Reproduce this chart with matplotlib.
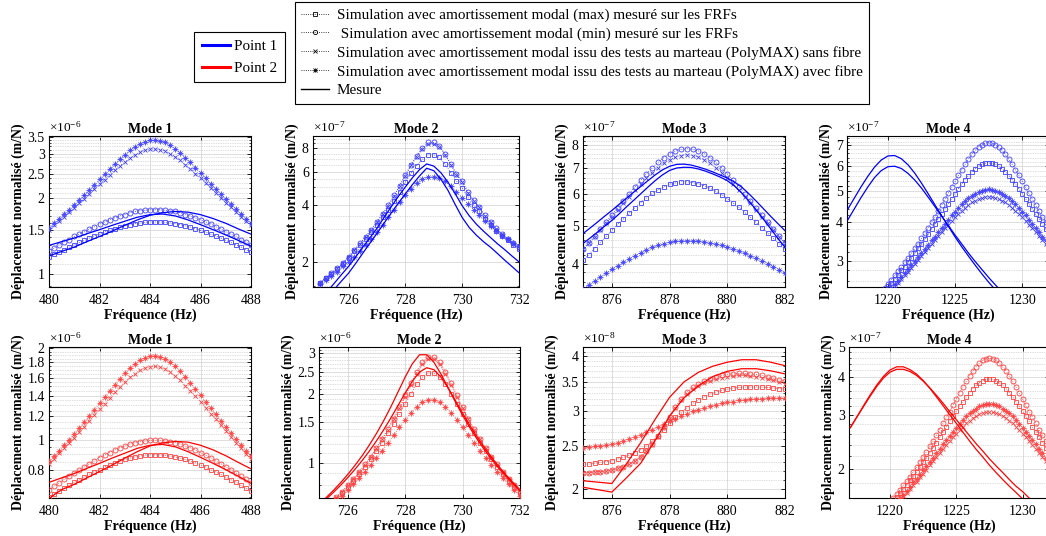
import numpy as np
import matplotlib
matplotlib.use('Agg')
import matplotlib.pyplot as plt
from matplotlib.lines import Line2D
from matplotlib.legend_handler import HandlerTuple
from matplotlib.ticker import FixedLocator, NullFormatter, NullLocator

plt.rcParams['font.family'] = ['Liberation Serif', 'DejaVu Serif']
plt.rcParams['mathtext.fontset'] = 'custom'
plt.rcParams['mathtext.rm'] = 'Liberation Serif'
plt.rcParams['mathtext.it'] = 'Liberation Serif:italic'
plt.rcParams['mathtext.bf'] = 'Liberation Serif:bold'

# ---------------- data ----------------
LEG_POINTS = ['Point 1', 'Point 2']
LEG_SERIES = ['Simulation avec amortissement modal (max) mesuré sur les FRFs',
              ' Simulation avec amortissement modal (min) mesuré sur les FRFs',
              'Simulation avec amortissement modal issu des tests au marteau (PolyMAX) sans fibre',
              'Simulation avec amortissement modal issu des tests au marteau (PolyMAX) avec fibre',
              'Mesure']
TITLES = ['Mode 1', 'Mode 2', 'Mode 3', 'Mode 4']

F_M1 = [480.0, 480.2, 480.4, 480.6, 480.8, 481.0, 481.2, 481.4, 481.6, 481.8, 482.0, 482.2, 482.4, 482.6,
        482.8, 483.0, 483.2, 483.4, 483.6, 483.8, 484.0, 484.2, 484.4, 484.6, 484.8, 485.0, 485.2, 485.4,
        485.6, 485.8, 486.0, 486.2, 486.4, 486.6, 486.8, 487.0, 487.2, 487.4, 487.6, 487.8, 488.0]
F_M1_MES = [480.0, 480.5, 481.0, 481.5, 482.0, 482.5, 483.0, 483.5, 484.0, 484.5, 485.0, 485.5, 486.0,
            486.5, 487.0, 487.5, 488.0]
F_M2 = [725.0, 725.2, 725.4, 725.6, 725.8, 726.0, 726.2, 726.4, 726.6, 726.8, 727.0, 727.2, 727.4, 727.6,
        727.8, 728.0, 728.2, 728.4, 728.6, 728.8, 729.0, 729.2, 729.4, 729.6, 729.8, 730.0, 730.2, 730.4,
        730.6, 730.8, 731.0, 731.2, 731.4, 731.6, 731.8, 732.0]
F_M2_MES = [725.0, 725.25, 725.5, 725.75, 726.0, 726.25, 726.5, 726.75, 727.0, 727.25, 727.5, 727.75,
            728.0, 728.25, 728.5, 728.75, 729.0, 729.25, 729.5, 729.75, 730.0, 730.25, 730.5, 730.75,
            731.0, 731.25, 731.5, 731.75, 732.0]
F_M3 = [875.0, 875.2, 875.4, 875.6, 875.8, 876.0, 876.2, 876.4, 876.6, 876.8, 877.0, 877.2, 877.4, 877.6,
        877.8, 878.0, 878.2, 878.4, 878.6, 878.8, 879.0, 879.2, 879.4, 879.6, 879.8, 880.0, 880.2, 880.4,
        880.6, 880.8, 881.0, 881.2, 881.4, 881.6, 881.8, 882.0]
F_M3_MES = [875.0, 875.25, 875.5, 875.75, 876.0, 876.25, 876.5, 876.75, 877.0, 877.25, 877.5, 877.75,
            878.0, 878.25, 878.5, 878.75, 879.0, 879.25, 879.5, 879.75, 880.0, 880.25, 880.5, 880.75,
            881.0, 881.25, 881.5, 881.75, 882.0]
F_M3_MES_R = [875.0, 875.5, 876.0, 876.5, 877.0, 877.5, 878.0, 878.5, 879.0, 879.5, 880.0, 880.5, 881.0,
              881.5, 882.0]
F_M4 = [1219.5, 1219.75, 1220.0, 1220.25, 1220.5, 1220.75, 1221.0, 1221.25, 1221.5, 1221.75, 1222.0,
        1222.25, 1222.5, 1222.75, 1223.0, 1223.25, 1223.5, 1223.75, 1224.0, 1224.25, 1224.5, 1224.75,
        1225.0, 1225.25, 1225.5, 1225.75, 1226.0, 1226.25, 1226.5, 1226.75, 1227.0, 1227.25, 1227.5,
        1227.75, 1228.0, 1228.25, 1228.5, 1228.75, 1229.0, 1229.25, 1229.5, 1229.75, 1230.0, 1230.25,
        1230.5, 1230.75, 1231.0, 1231.25, 1231.5, 1231.75, 1232.0]
F_M4_MES = [1217.0, 1217.5, 1218.0, 1218.5, 1219.0, 1219.5, 1220.0, 1220.5, 1221.0, 1221.5, 1222.0,
            1222.5, 1223.0, 1223.5, 1224.0, 1224.5, 1225.0, 1225.5, 1226.0, 1226.5, 1227.0, 1227.5,
            1228.0, 1228.5, 1229.0, 1229.5, 1230.0, 1230.5, 1231.0, 1231.5, 1232.0]

# Point 1 (blue) -- Mode 1 (x1e-6)
B1_MAX = [1.17, 1.20, 1.225, 1.25, 1.28, 1.31, 1.335, 1.36, 1.39, 1.42, 1.44, 1.47, 1.49, 1.515, 1.535, 1.555,
          1.57, 1.585, 1.595, 1.605, 1.61, 1.61, 1.61, 1.605, 1.595, 1.585, 1.57, 1.555, 1.535, 1.515, 1.49,
          1.47, 1.44, 1.42, 1.39, 1.36, 1.335, 1.31, 1.28, 1.25, 1.225]
B1_MIN = [1.24, 1.27, 1.305, 1.34, 1.37, 1.41, 1.44, 1.47, 1.51, 1.54, 1.58, 1.61, 1.64, 1.67, 1.70, 1.72,
          1.75, 1.77, 1.78, 1.79, 1.80, 1.80, 1.80, 1.79, 1.78, 1.77, 1.75, 1.72, 1.70, 1.67, 1.64, 1.61,
          1.58, 1.54, 1.51, 1.47, 1.44, 1.41, 1.37, 1.34, 1.305]
B1_SANS = [1.50, 1.56, 1.63, 1.69, 1.755, 1.83, 1.91, 1.99, 2.08, 2.17, 2.27, 2.36, 2.47, 2.58, 2.68, 2.78,
           2.88, 2.96, 3.04, 3.09, 3.12, 3.13, 3.11, 3.07, 3.00, 2.91, 2.82, 2.71, 2.61, 2.50, 2.40, 2.29,
           2.19, 2.10, 2.01, 1.92, 1.84, 1.76, 1.69, 1.62, 1.56]
B1_AVEC = [1.53, 1.59, 1.66, 1.73, 1.80, 1.88, 1.97, 2.06, 2.16, 2.26, 2.37, 2.48, 2.60, 2.73, 2.85, 2.97,
           3.09, 3.19, 3.28, 3.34, 3.38, 3.39, 3.37, 3.32, 3.23, 3.13, 3.02, 2.89, 2.77, 2.64, 2.52, 2.40,
           2.28, 2.18, 2.08, 1.98, 1.89, 1.81, 1.73, 1.66, 1.59]
B1_MES1 = [1.30, 1.345, 1.39, 1.445, 1.50, 1.56, 1.62, 1.68, 1.72, 1.73, 1.70, 1.64, 1.57, 1.50, 1.43, 1.36, 1.29]
B1_MES2 = [1.18, 1.23, 1.28, 1.345, 1.41, 1.48, 1.56, 1.64, 1.71, 1.75, 1.77, 1.76, 1.72, 1.66, 1.59, 1.51, 1.44]

# Point 1 -- Mode 2 (x1e-7)
B2_MAX = [1.56, 1.645, 1.74, 1.85, 1.97, 2.11, 2.28, 2.47, 2.66, 2.89, 3.16, 3.47, 3.80, 4.24, 4.73, 5.30,
          5.91, 6.48, 6.99, 7.40, 7.40, 7.16, 6.59, 5.95, 5.37, 4.94, 4.40, 4.02, 3.73, 3.40, 3.16, 2.93,
          2.75, 2.61, 2.47, 2.36]
B2_MIN = [1.56, 1.65, 1.75, 1.86, 1.99, 2.14, 2.32, 2.52, 2.73, 2.98, 3.27, 3.62, 4.00, 4.51, 5.09, 5.79,
          6.57, 7.32, 8.03, 8.60, 8.60, 8.26, 7.47, 6.62, 5.87, 5.35, 4.70, 4.25, 3.92, 3.54, 3.27, 3.02,
          2.82, 2.67, 2.52, 2.40]
B2_SANS = [1.56, 1.65, 1.75, 1.86, 1.99, 2.13, 2.31, 2.51, 2.72, 2.97, 3.25, 3.60, 3.97, 4.47, 5.05, 5.73,
           6.50, 7.23, 7.92, 8.47, 8.47, 8.14, 7.37, 6.55, 5.82, 5.30, 4.66, 4.22, 3.90, 3.52, 3.25, 3.00,
           2.81, 2.66, 2.51, 2.39]
B2_AVEC = [1.54, 1.61, 1.70, 1.785, 1.90, 2.01, 2.14, 2.30, 2.46, 2.67, 2.90, 3.14, 3.45, 3.76, 4.16, 4.51,
           4.89, 5.24, 5.52, 5.63, 5.68, 5.59, 5.36, 5.03, 4.70, 4.39, 4.08, 3.80, 3.54, 3.31, 3.10, 2.93,
           2.77, 2.64, 2.53, 2.44]
B2_MES1 = [1.27, 1.40, 1.55, 1.72, 1.90, 2.13, 2.40, 2.69, 3.02, 3.45, 3.92, 4.45, 5.00, 5.60, 6.18, 6.62,
           6.45, 5.95, 5.30, 4.62, 3.98, 3.52, 3.18, 2.92, 2.70, 2.50, 2.33, 2.16, 2.01]
B2_MES2 = [1.16, 1.29, 1.44, 1.59, 1.75, 1.97, 2.23, 2.52, 2.84, 3.22, 3.64, 4.10, 4.60, 5.15, 5.72, 6.28,
           6.10, 5.50, 4.80, 4.05, 3.45, 3.05, 2.78, 2.57, 2.40, 2.22, 2.05, 1.90, 1.76]

# Point 1 -- Mode 3 (x1e-7)
B3_MAX = [4.08, 4.22, 4.37, 4.53, 4.69, 4.86, 5.03, 5.20, 5.37, 5.55, 5.72, 5.88, 6.03, 6.16, 6.27, 6.36,
          6.42, 6.46, 6.46, 6.43, 6.38, 6.31, 6.22, 6.11, 5.99, 5.85, 5.70, 5.56, 5.40, 5.25, 5.09, 4.94,
          4.79, 4.64, 4.50, 4.36]
B3_MIN = [4.35, 4.52, 4.70, 4.90, 5.10, 5.32, 5.54, 5.78, 6.02, 6.27, 6.52, 6.77, 7.01, 7.24, 7.44, 7.61,
          7.73, 7.81, 7.84, 7.81, 7.73, 7.61, 7.44, 7.24, 7.01, 6.77, 6.52, 6.27, 6.02, 5.78, 5.54, 5.32,
          5.10, 4.90, 4.70, 4.52]
B3_SANS = [4.35, 4.51, 4.68, 4.87, 5.06, 5.27, 5.47, 5.69, 5.92, 6.14, 6.37, 6.60, 6.81, 7.02, 7.20, 7.35,
           7.46, 7.53, 7.56, 7.53, 7.46, 7.35, 7.20, 7.02, 6.81, 6.60, 6.37, 6.14, 5.92, 5.69, 5.47, 5.27,
           5.06, 4.87, 4.68, 4.51]
B3_AVEC = [3.44, 3.53, 3.61, 3.70, 3.78, 3.87, 3.95, 4.03, 4.12, 4.19, 4.27, 4.33, 4.40, 4.45, 4.50, 4.53,
           4.56, 4.57, 4.58, 4.58, 4.57, 4.55, 4.52, 4.49, 4.45, 4.41, 4.36, 4.31, 4.25, 4.19, 4.13, 4.06,
           4.00, 3.93, 3.86, 3.79]
B3_MES1 = [4.77, 4.93, 5.10, 5.28, 5.46, 5.66, 5.86, 6.07, 6.28, 6.50, 6.72, 6.92, 7.07, 7.15, 7.16, 7.12,
           7.04, 6.95, 6.84, 6.72, 6.60, 6.45, 6.26, 6.02, 5.77, 5.52, 5.28, 5.06, 4.85]
B3_MES2 = [4.50, 4.65, 4.81, 4.98, 5.15, 5.35, 5.57, 5.79, 6.02, 6.26, 6.50, 6.72, 6.90, 7.00, 7.03, 7.02,
           6.96, 6.87, 6.76, 6.64, 6.50, 6.30, 6.05, 5.77, 5.48, 5.19, 4.91, 4.64, 4.40]

# Point 1 -- Mode 4 (x1e-7)
B4_MAX = [2.36, 2.42, 2.49, 2.56, 2.63, 2.71, 2.80, 2.88, 2.98, 3.07, 3.18, 3.29, 3.40, 3.52, 3.65, 3.79,
          3.93, 4.08, 4.23, 4.40, 4.57, 4.74, 4.92, 5.10, 5.27, 5.45, 5.61, 5.77, 5.90, 6.01, 6.09, 6.14,
          6.16, 6.14, 6.09, 6.01, 5.90, 5.77, 5.61, 5.45, 5.27, 5.10, 4.92, 4.74, 4.57, 4.40, 4.23, 4.08,
          3.93, 3.79, 3.65]
B4_MIN = [2.40, 2.47, 2.54, 2.62, 2.70, 2.78, 2.87, 2.97, 3.07, 3.18, 3.29, 3.41, 3.54, 3.68, 3.83, 3.99,
          4.15, 4.33, 4.52, 4.72, 4.93, 5.15, 5.38, 5.62, 5.86, 6.10, 6.33, 6.55, 6.75, 6.92, 7.04, 7.12,
          7.15, 7.12, 7.04, 6.92, 6.75, 6.55, 6.33, 6.10, 5.86, 5.62, 5.38, 5.15, 4.93, 4.72, 4.52, 4.33,
          4.15, 3.99, 3.83]
B4_SANS = [2.25, 2.31, 2.37, 2.43, 2.49, 2.56, 2.63, 2.70, 2.77, 2.85, 2.93, 3.02, 3.11, 3.20, 3.30, 3.39,
           3.50, 3.60, 3.71, 3.81, 3.92, 4.03, 4.14, 4.24, 4.34, 4.44, 4.53, 4.61, 4.67, 4.73, 4.77, 4.79,
           4.80, 4.79, 4.77, 4.73, 4.67, 4.61, 4.53, 4.44, 4.34, 4.24, 4.14, 4.03, 3.92, 3.81, 3.71, 3.60,
           3.50, 3.39, 3.30]
B4_AVEC = [2.28, 2.34, 2.40, 2.46, 2.53, 2.60, 2.67, 2.74, 2.82, 2.91, 2.99, 3.08, 3.18, 3.28, 3.38, 3.49,
           3.59, 3.71, 3.82, 3.94, 4.06, 4.19, 4.31, 4.42, 4.54, 4.65, 4.75, 4.84, 4.92, 4.98, 5.03, 5.06,
           5.07, 5.06, 5.03, 4.98, 4.92, 4.84, 4.75, 4.65, 4.54, 4.42, 4.31, 4.19, 4.06, 3.94, 3.82, 3.71,
           3.59, 3.49, 3.38]
B4_MES1 = [4.38, 4.76, 5.17, 5.58, 5.97, 6.29, 6.48, 6.50, 6.35, 6.07, 5.71, 5.31, 4.91, 4.53, 4.18, 3.87,
           3.58, 3.33, 3.11, 2.91, 2.73, 2.57, 2.43, 2.30, 2.19, 2.08, 1.98, 1.89, 1.81, 1.73, 1.66]
B4_MES2 = [4.05, 4.40, 4.78, 5.16, 5.53, 5.82, 5.99, 6.01, 5.91, 5.70, 5.43, 5.12, 4.79, 4.47, 4.17, 3.89,
           3.63, 3.40, 3.18, 2.99, 2.82, 2.66, 2.52, 2.39, 2.27, 2.17, 2.07, 1.98, 1.90, 1.82, 1.75]

# Point 2 (red) -- Mode 1 (x1e-6)
R1_MAX = [0.651, 0.668, 0.682, 0.696, 0.712, 0.729, 0.743, 0.757, 0.774, 0.790, 0.801, 0.818, 0.829, 0.843,
          0.854, 0.865, 0.874, 0.882, 0.888, 0.893, 0.896, 0.896, 0.896, 0.893, 0.888, 0.882, 0.874, 0.865,
          0.854, 0.843, 0.829, 0.818, 0.801, 0.790, 0.774, 0.757, 0.743, 0.729, 0.712, 0.696, 0.682]
R1_MIN = [0.689, 0.706, 0.725, 0.744, 0.761, 0.783, 0.800, 0.817, 0.839, 0.856, 0.878, 0.894, 0.911, 0.928,
          0.944, 0.956, 0.972, 0.983, 0.989, 0.994, 1.0, 1.0, 1.0, 0.994, 0.989, 0.983, 0.972, 0.956, 0.944,
          0.928, 0.911, 0.894, 0.878, 0.856, 0.839, 0.817, 0.800, 0.783, 0.761, 0.744, 0.725]
R1_SANS = [0.836, 0.870, 0.909, 0.942, 0.978, 1.020, 1.065, 1.109, 1.160, 1.210, 1.266, 1.316, 1.377, 1.438,
           1.494, 1.550, 1.606, 1.650, 1.695, 1.723, 1.739, 1.745, 1.734, 1.712, 1.673, 1.622, 1.572, 1.511,
           1.455, 1.394, 1.338, 1.277, 1.221, 1.171, 1.121, 1.070, 1.026, 0.981, 0.942, 0.903, 0.870]
R1_AVEC = [0.853, 0.886, 0.925, 0.964, 1.003, 1.048, 1.098, 1.148, 1.204, 1.260, 1.321, 1.383, 1.450, 1.522,
           1.589, 1.656, 1.723, 1.778, 1.829, 1.862, 1.884, 1.890, 1.879, 1.851, 1.801, 1.745, 1.684, 1.611,
           1.544, 1.472, 1.405, 1.338, 1.271, 1.215, 1.160, 1.104, 1.054, 1.009, 0.964, 0.925, 0.886]
R1_MES1 = [0.728, 0.753, 0.778, 0.809, 0.840, 0.874, 0.907, 0.941, 0.963, 0.969, 0.952, 0.918, 0.879, 0.840,
           0.801, 0.762, 0.722]
R1_MES2 = [0.645, 0.689, 0.717, 0.753, 0.790, 0.829, 0.874, 0.918, 0.958, 0.980, 0.991, 0.986, 0.963, 0.930,
           0.890, 0.846, 0.806]

# Point 2 -- Mode 2 (x1e-6)
R2_MAX = [0.596, 0.626, 0.659, 0.696, 0.737, 0.783, 0.834, 0.893, 0.959, 1.035, 1.122, 1.223, 1.341, 1.477,
          1.633, 1.810, 2.003, 2.196, 2.360, 2.457, 2.457, 2.360, 2.196, 2.003, 1.810, 1.633, 1.477, 1.341,
          1.223, 1.122, 1.035, 0.959, 0.893, 0.834, 0.783, 0.737]
R2_MIN = [0.601, 0.632, 0.666, 0.704, 0.747, 0.794, 0.849, 0.910, 0.981, 1.062, 1.157, 1.269, 1.401, 1.558,
          1.745, 1.966, 2.221, 2.493, 2.742, 2.898, 2.898, 2.742, 2.493, 2.221, 1.966, 1.745, 1.558, 1.401,
          1.269, 1.157, 1.062, 0.981, 0.910, 0.849, 0.794, 0.747]
R2_SANS = [0.601, 0.632, 0.666, 0.704, 0.747, 0.794, 0.849, 0.910, 0.980, 1.060, 1.154, 1.264, 1.393, 1.546,
           1.727, 1.940, 2.185, 2.446, 2.686, 2.838, 2.838, 2.686, 2.446, 2.185, 1.940, 1.727, 1.546, 1.393,
           1.264, 1.154, 1.060, 0.980, 0.910, 0.849, 0.794, 0.747]
R2_AVEC = [0.584, 0.612, 0.643, 0.677, 0.715, 0.756, 0.803, 0.854, 0.912, 0.976, 1.048, 1.129, 1.219, 1.319,
           1.427, 1.541, 1.654, 1.758, 1.839, 1.884, 1.884, 1.839, 1.758, 1.654, 1.541, 1.427, 1.319, 1.219,
           1.129, 1.048, 0.976, 0.912, 0.854, 0.803, 0.756, 0.715]
R2_MES1 = [0.656, 0.703, 0.755, 0.816, 0.887, 0.971, 1.070, 1.191, 1.339, 1.522, 1.750, 2.032, 2.363, 2.703,
           2.960, 2.960, 2.747, 2.436, 2.119, 1.841, 1.610, 1.422, 1.269, 1.143, 1.037, 0.949, 0.874, 0.809,
           0.753]
R2_MES2 = [0.649, 0.692, 0.740, 0.795, 0.859, 0.933, 1.019, 1.121, 1.243, 1.389, 1.565, 1.774, 2.014, 2.267,
           2.486, 2.597, 2.547, 2.363, 2.116, 1.867, 1.645, 1.456, 1.298, 1.167, 1.058, 0.966, 0.887, 0.820,
           0.761]

# Point 2 -- Mode 3 (x1e-8)
R3_MAX = [2.28, 2.28, 2.29, 2.30, 2.31, 2.32, 2.34, 2.36, 2.39, 2.42, 2.46, 2.51, 2.57, 2.64, 2.72, 2.82,
          2.91, 2.99, 3.06, 3.13, 3.19, 3.24, 3.28, 3.32, 3.35, 3.37, 3.39, 3.40, 3.41, 3.41, 3.41, 3.41,
          3.40, 3.39, 3.38, 3.37]
R3_MIN = [2.18, 2.18, 2.19, 2.19, 2.20, 2.21, 2.23, 2.25, 2.28, 2.32, 2.37, 2.44, 2.53, 2.64, 2.77, 2.92,
          3.07, 3.21, 3.32, 3.40, 3.46, 3.51, 3.55, 3.59, 3.62, 3.64, 3.65, 3.66, 3.66, 3.65, 3.64, 3.62,
          3.60, 3.57, 3.54, 3.51]
R3_SANS = [2.18, 2.18, 2.19, 2.19, 2.20, 2.21, 2.23, 2.25, 2.28, 2.32, 2.37, 2.44, 2.52, 2.63, 2.76, 2.90,
           3.05, 3.18, 3.29, 3.37, 3.43, 3.48, 3.52, 3.55, 3.58, 3.60, 3.61, 3.62, 3.62, 3.61, 3.60, 3.58,
           3.56, 3.53, 3.50, 3.47]
R3_AVEC = [2.48, 2.49, 2.50, 2.51, 2.52, 2.53, 2.55, 2.57, 2.60, 2.63, 2.66, 2.70, 2.73, 2.77, 2.81, 2.85,
           2.89, 2.93, 2.96, 3.00, 3.03, 3.06, 3.08, 3.11, 3.13, 3.15, 3.16, 3.18, 3.19, 3.20, 3.21, 3.21,
           3.22, 3.22, 3.22, 3.22]
R3_MES1 = [2.09, 2.075, 2.06, 2.28, 2.55, 2.88, 3.23, 3.50, 3.68, 3.80, 3.88, 3.93, 3.93, 3.88, 3.81]
R3_MES2 = [2.02, 1.995, 1.97, 2.12, 2.29, 2.58, 2.93, 3.22, 3.43, 3.60, 3.70, 3.75, 3.75, 3.71, 3.65]

# Point 2 -- Mode 4 (x1e-7)
R4_MAX = [1.45, 1.49, 1.53, 1.58, 1.62, 1.67, 1.72, 1.78, 1.84, 1.90, 1.96, 2.03, 2.11, 2.18, 2.26, 2.35,
          2.44, 2.54, 2.64, 2.74, 2.86, 2.97, 3.09, 3.21, 3.32, 3.44, 3.55, 3.66, 3.75, 3.83, 3.88, 3.92,
          3.93, 3.92, 3.88, 3.83, 3.75, 3.66, 3.55, 3.44, 3.32, 3.21, 3.09, 2.97, 2.86, 2.74, 2.64, 2.54,
          2.44, 2.35, 2.26]
R4_MIN = [1.48, 1.52, 1.56, 1.61, 1.66, 1.71, 1.77, 1.83, 1.89, 1.96, 2.03, 2.11, 2.19, 2.28, 2.37, 2.47,
          2.58, 2.69, 2.82, 2.95, 3.08, 3.23, 3.38, 3.54, 3.70, 3.86, 4.02, 4.18, 4.31, 4.43, 4.52, 4.58,
          4.60, 4.58, 4.52, 4.43, 4.31, 4.18, 4.02, 3.86, 3.70, 3.54, 3.38, 3.23, 3.08, 2.95, 2.82, 2.69,
          2.58, 2.47, 2.37]
R4_SANS = [1.39, 1.42, 1.46, 1.50, 1.54, 1.58, 1.63, 1.67, 1.72, 1.77, 1.82, 1.88, 1.93, 1.99, 2.06, 2.12,
           2.19, 2.25, 2.32, 2.40, 2.47, 2.54, 2.61, 2.68, 2.75, 2.82, 2.88, 2.93, 2.98, 3.02, 3.04, 3.06,
           3.07, 3.06, 3.04, 3.02, 2.98, 2.93, 2.88, 2.82, 2.75, 2.68, 2.61, 2.54, 2.47, 2.40, 2.32, 2.25,
           2.19, 2.12, 2.06]
R4_AVEC = [1.41, 1.44, 1.48, 1.52, 1.56, 1.61, 1.65, 1.70, 1.75, 1.81, 1.86, 1.92, 1.98, 2.04, 2.11, 2.18,
           2.25, 2.33, 2.41, 2.48, 2.57, 2.65, 2.73, 2.81, 2.89, 2.97, 3.04, 3.10, 3.15, 3.20, 3.23, 3.25,
           3.26, 3.25, 3.23, 3.20, 3.15, 3.10, 3.04, 2.97, 2.89, 2.81, 2.73, 2.65, 2.57, 2.48, 2.41, 2.33,
           2.25, 2.18, 2.11]
R4_MES1 = [2.73, 2.96, 3.22, 3.49, 3.76, 4.01, 4.21, 4.31, 4.31, 4.22, 4.08, 3.89, 3.67, 3.44, 3.22, 3.01,
           2.82, 2.64, 2.47, 2.32, 2.19, 2.06, 1.95, 1.85, 1.76, 1.68, 1.60, 1.53, 1.46, 1.40, 1.35]
R4_MES2 = [2.73, 2.96, 3.20, 3.46, 3.72, 3.96, 4.14, 4.23, 4.23, 4.16, 4.04, 3.87, 3.68, 3.48, 3.28, 3.08,
           2.90, 2.73, 2.57, 2.42, 2.29, 2.16, 2.05, 1.95, 1.85, 1.76, 1.69, 1.61, 1.54, 1.48, 1.42]

# y tick values (in units of the axis exponent) and exponents
YT = [[1, 1.5, 2, 2.5, 3, 3.5], [2, 4, 6, 8], [4, 5, 6, 7, 8], [3, 4, 5, 6, 7],
      [0.8, 1, 1.2, 1.4, 1.6, 1.8, 2], [1, 1.5, 2, 2.5, 3], [2, 2.5, 3, 3.5, 4], [2, 3, 4, 5]]
EXPS = ['-6', '-7', '-7', '-7', '-6', '-6', '-8', '-7']
XT = [[480, 482, 484, 486, 488], [726, 728, 730, 732], [876, 878, 880, 882], [1220, 1225, 1230]]

# ---------------- layout / style ----------------
W, H = 1046, 536
fig = plt.figure(figsize=(W / 100, H / 100), dpi=100)

def rect(l, t, r, b):
    return [l / W, 1 - b / H, (r - l) / W, (b - t) / H]

panels = [
    dict(pos=rect(49, 136, 251, 287), c='b', f=F_M1, sims=[B1_MAX, B1_MIN, B1_SANS, B1_AVEC], fm=F_M1_MES,
         meas=[B1_MES1, B1_MES2], xlim=(480, 488), ylim=(0.89, 3.52), minor=(0.9, 3.5, 0.1), m=0),
    dict(pos=rect(313, 136, 519, 287), c='b', f=F_M2, sims=[B2_MAX, B2_MIN, B2_SANS, B2_AVEC], fm=F_M2_MES,
         meas=[B2_MES1, B2_MES2], xlim=(724.75, 732), ylim=(1.48, 9.3), minor=(1.5, 9.0, 0.5), m=1),
    dict(pos=rect(583, 136, 785, 287), c='b', f=F_M3, sims=[B3_MAX, B3_MIN, B3_SANS, B3_AVEC], fm=F_M3_MES,
         meas=[B3_MES1, B3_MES2], xlim=(875, 882), ylim=(3.49, 8.44), minor=(3.6, 8.4, 0.2), m=2),
    dict(pos=rect(847, 136, 1049, 287), c='b', f=F_M4, sims=[B4_MAX, B4_MIN, B4_SANS, B4_AVEC], fm=F_M4_MES,
         meas=[B4_MES1, B4_MES2], xlim=(1216.95, 1232), ylim=(2.48, 7.5), minor=(2.6, 7.4, 0.2), m=3),
    dict(pos=rect(49, 347, 251, 498), c='r', f=F_M1, sims=[R1_MAX, R1_MIN, R1_SANS, R1_AVEC], fm=F_M1_MES,
         meas=[R1_MES1, R1_MES2], xlim=(480, 488), ylim=(0.647, 2.02), minor=(0.65, 2.0, 0.05), m=0),
    dict(pos=rect(319, 347, 520, 498), c='r', f=F_M2, sims=[R2_MAX, R2_MIN, R2_SANS, R2_AVEC], fm=F_M2_MES,
         meas=[R2_MES1, R2_MES2], xlim=(725, 732), ylim=(0.70, 3.2), minor=(0.7, 3.2, 0.1), m=1),
    dict(pos=rect(583, 347, 785, 498), c='r', f=F_M3, sims=[R3_MAX, R3_MIN, R3_SANS, R3_AVEC], fm=F_M3_MES_R,
         meas=[R3_MES1, R3_MES2], xlim=(875, 882), ylim=(1.91, 4.2), minor=(2.0, 4.2, 0.1), m=2),
    dict(pos=rect(849, 347, 1049, 498), c='r', f=F_M4, sims=[R4_MAX, R4_MIN, R4_SANS, R4_AVEC], fm=F_M4_MES,
         meas=[R4_MES1, R4_MES2], xlim=(1216.9, 1232), ylim=(1.61, 5.0), minor=(1.8, 5.0, 0.2), m=3),
]

# marker layers per series: a MATLAB-like asterisk is drawn as '+' over 'x'
MARKERS = [[('s', 3.0)], [('o', 3.6)], [('x', 3.4)], [('+', 4.2), ('x', 3.2)]]
SIM_COL = {'b': (0.25, 0.25, 1.0), 'r': (1.0, 0.25, 0.25)}
FS = 10

for i, p in enumerate(panels):
    ax = fig.add_axes(p['pos'])
    sc = SIM_COL[p['c']]
    for vals, layers in zip(p['sims'], MARKERS):
        for k, (mk, ms) in enumerate(layers):
            ax.plot(p['f'], vals, linestyle=':' if k == 0 else 'none', lw=0.6, color=sc, marker=mk, ms=ms,
                    mfc='none', mec=sc, mew=0.6, zorder=3)
    for vals in p['meas']:
        ax.plot(p['fm'], vals, '-', color=p['c'], lw=0.9, zorder=4)
    ax.set_yscale('log')
    ax.set_xlim(*p['xlim'])
    ax.set_ylim(*p['ylim'])
    ax.set_xticks(XT[p['m']])
    ax.set_xticklabels([str(v) for v in XT[p['m']]])
    ax.xaxis.set_minor_locator(NullLocator())
    ax.yaxis.set_major_locator(FixedLocator(YT[i]))
    ax.set_yticklabels(['%g' % v for v in YT[i]])
    lo, hi, st = p['minor']
    mn = [round(v, 4) for v in np.arange(lo, hi + 1e-9, st)]
    ax.yaxis.set_minor_locator(FixedLocator(mn))
    ax.yaxis.set_minor_formatter(NullFormatter())
    ax.grid(True, which='major', color='#d8d8d8', lw=0.6, ls='-', zorder=0)
    ax.grid(True, which='minor', axis='y', color='#bdbdbd', lw=0.5, ls=(0, (1, 1.5)), zorder=0)
    ax.set_axisbelow(True)
    ax.tick_params(which='both', direction='in', top=True, right=True, labelsize=FS)
    ax.tick_params(axis='x', which='major', pad=5)
    ax.tick_params(axis='y', which='major', pad=3)
    ax.tick_params(which='major', length=3, width=0.6)
    ax.tick_params(which='minor', length=1.5, width=0.5)
    for s in ax.spines.values():
        s.set_linewidth(0.8)
    ax.set_title(TITLES[p['m']], fontsize=10, fontweight='bold', pad=2)
    ax.set_xlabel('Fréquence (Hz)', fontsize=10, fontweight='bold', labelpad=1)
    ax.set_ylabel('Déplacement normalisé (m/N)', fontsize=9.9, fontweight='bold', labelpad=2)
    ax.text(0.0, 1.012, r'$\times 10^{%s}$' % EXPS[i], transform=ax.transAxes, ha='left', va='bottom',
            fontsize=9.5)

# legends
h_pts = [Line2D([], [], color='b', lw=2.2), Line2D([], [], color='r', lw=2.2)]
leg1 = fig.legend(h_pts, LEG_POINTS, loc='upper left', bbox_to_anchor=(194 / W, 1 - 32 / H),
                  fontsize=10.8, frameon=True, fancybox=False, edgecolor='k', framealpha=1,
                  borderpad=0.5, labelspacing=0.55, handlelength=1.9, handletextpad=0.25, borderaxespad=0)
leg1.get_frame().set_linewidth(0.8)

h_ser = []
for layers in MARKERS:
    parts = tuple(Line2D([], [], color='k', ls=':' if k == 0 else 'none', lw=0.6, marker=mk, ms=ms * 0.85,
                         mfc='none', mew=0.6) for k, (mk, ms) in enumerate(layers))
    h_ser.append(parts if len(parts) > 1 else parts[0])
h_ser.append(Line2D([], [], color='k', lw=1.0))
leg2 = fig.legend(h_ser, LEG_SERIES, loc='upper left', bbox_to_anchor=(295 / W, 1 - 2 / H),
                  fontsize=10.9, frameon=True, fancybox=False, edgecolor='k', framealpha=1,
                  borderpad=0.42, labelspacing=0.33, handlelength=1.8, handletextpad=0.55, borderaxespad=0,
                  handler_map={tuple: HandlerTuple(ndivide=1)})
leg2.get_frame().set_linewidth(0.8)

fig.savefig('out.png', dpi=100)
